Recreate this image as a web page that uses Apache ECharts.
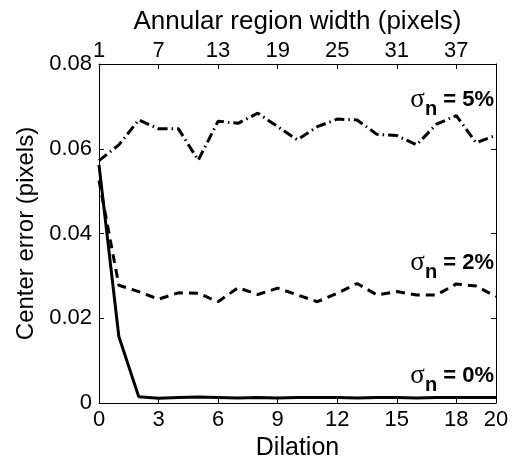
<!DOCTYPE html>
<html>
<head>
<meta charset="utf-8">
<title>Center error vs dilation</title>
<script src="https://cdn.jsdelivr.net/npm/echarts@6/dist/echarts.min.js"></script>
<style>
	html, body { margin: 0; padding: 0; background: #fff; }
	#main { width: 512px; height: 457px; }
</style>
</head>
<body>
<div id="main"></div>
<script>
	// dilation steps (bottom axis); top axis shows annular width = 2*d+1
	var dilation = [0, 1, 2, 3, 4, 5, 6, 7, 8, 9, 10, 11, 12, 13, 14, 15, 16, 17, 18, 19, 20];

	// center error (pixels) per noise level
	var noise0 = [0.0562, 0.0157, 0.0015, 0.0011, 0.0013, 0.0014, 0.0013, 0.0012, 0.0013, 0.0012, 0.0013,
		0.0013, 0.0013, 0.0012, 0.0013, 0.0013, 0.0012, 0.0013, 0.0013, 0.0013, 0.0013];
	var noise2 = [0.0525, 0.0278, 0.0263, 0.0245, 0.0260, 0.0259, 0.0239, 0.0272, 0.0256, 0.0271, 0.0255,
		0.0239, 0.0259, 0.0282, 0.0255, 0.0263, 0.0255, 0.0255, 0.0281, 0.0276, 0.0251];
	var noise5 = [0.0572, 0.0609, 0.0668, 0.0647, 0.0647, 0.0573, 0.0665, 0.0660, 0.0684, 0.0652, 0.0621,
		0.0652, 0.0670, 0.0668, 0.0634, 0.0631, 0.0609, 0.0658, 0.0678, 0.0614, 0.0632];

	var seriesNames = ['0%', '2%', '5%'];
	var font = "'Liberation Sans', Arial, Helvetica, sans-serif";

	function pairs(vals) {
		return dilation.map(function (d, i) { return [d, vals[i]]; });
	}

	function noteText(pct, y) {
		return {
			type: 'text',
			style: {
				x: 494,
				y: y,
				align: 'right',
				verticalAlign: 'middle',
				text: '{s|σ}{n|n}{t| = ' + pct + '}',
				rich: {
					s: { fontFamily: "'Liberation Serif', 'DejaVu Serif', serif", fontSize: 27, fill: '#000' },
					n: { fontFamily: font, fontSize: 20, fontWeight: 'bold', fill: '#000', padding: [18, 0, 0, 0] },
					t: { fontFamily: font, fontSize: 22, fontWeight: 'bold', fill: '#000' }
				}
			}
		};
	}

	var axisCommon = {
		type: 'value',
		axisLine: { show: true, onZero: false, lineStyle: { color: '#000', width: 1 } },
		axisTick: { show: true, inside: true, length: 5, lineStyle: { color: '#000' } },
		splitLine: { show: false },
		axisLabel: { color: '#000', fontSize: 22, fontFamily: font },
		nameTextStyle: { color: '#000', fontSize: 25, fontFamily: font }
	};

	var chart = echarts.init(document.getElementById('main'));

	chart.setOption({
		backgroundColor: '#fff',
		animation: false,
		grid: {
			left: 99,
			right: 16,
			top: 64,
			bottom: 54,
			containLabel: false,
			outerBoundsMode: 'none'
		},
		xAxis: [
			Object.assign({}, axisCommon, {
				position: 'bottom',
				min: 0,
				max: 20,
				interval: 3,
				name: 'Dilation',
				nameLocation: 'middle',
				nameGap: 30,
				axisLabel: Object.assign({}, axisCommon.axisLabel, { margin: 6 })
			}),
			Object.assign({}, axisCommon, {
				position: 'top',
				min: 1,
				max: 41,
				interval: 6,
				name: 'Annular region width (pixels)',
				nameLocation: 'middle',
				nameGap: 28,
				nameTextStyle: { color: '#000', fontSize: 26, fontFamily: font },
				axisLabel: Object.assign({}, axisCommon.axisLabel, { margin: 2, showMaxLabel: false })
			})
		],
		yAxis: [
			Object.assign({}, axisCommon, {
				position: 'left',
				min: 0,
				max: 0.08,
				interval: 0.02,
				name: 'Center error (pixels)',
				nameLocation: 'middle',
				nameGap: 56,
				nameTextStyle: { color: '#000', fontSize: 24, fontFamily: font },
				axisLabel: Object.assign({}, axisCommon.axisLabel, { margin: 7 })
			}),
			Object.assign({}, axisCommon, {
				position: 'right',
				min: 0,
				max: 0.08,
				interval: 0.02,
				axisLabel: { show: false }
			})
		],
		series: [
			{
				name: seriesNames[0],
				type: 'line',
				data: pairs(noise0),
				showSymbol: false,
				symbol: 'none',
				lineStyle: { color: '#000', width: 3, type: 'solid' },
				z: 3
			},
			{
				name: seriesNames[1],
				type: 'line',
				data: pairs(noise2),
				showSymbol: false,
				symbol: 'none',
				lineStyle: { color: '#000', width: 3, type: [9, 6] },
				z: 2
			},
			{
				name: seriesNames[2],
				type: 'line',
				data: pairs(noise5),
				showSymbol: false,
				symbol: 'none',
				lineStyle: { color: '#000', width: 3, type: [10, 4, 1.5, 4] },
				z: 2
			}
		],
		graphic: [
			noteText('5%', 100),
			noteText('2%', 263),
			noteText('0%', 376)
		]
	});
</script>
</body>
</html>
